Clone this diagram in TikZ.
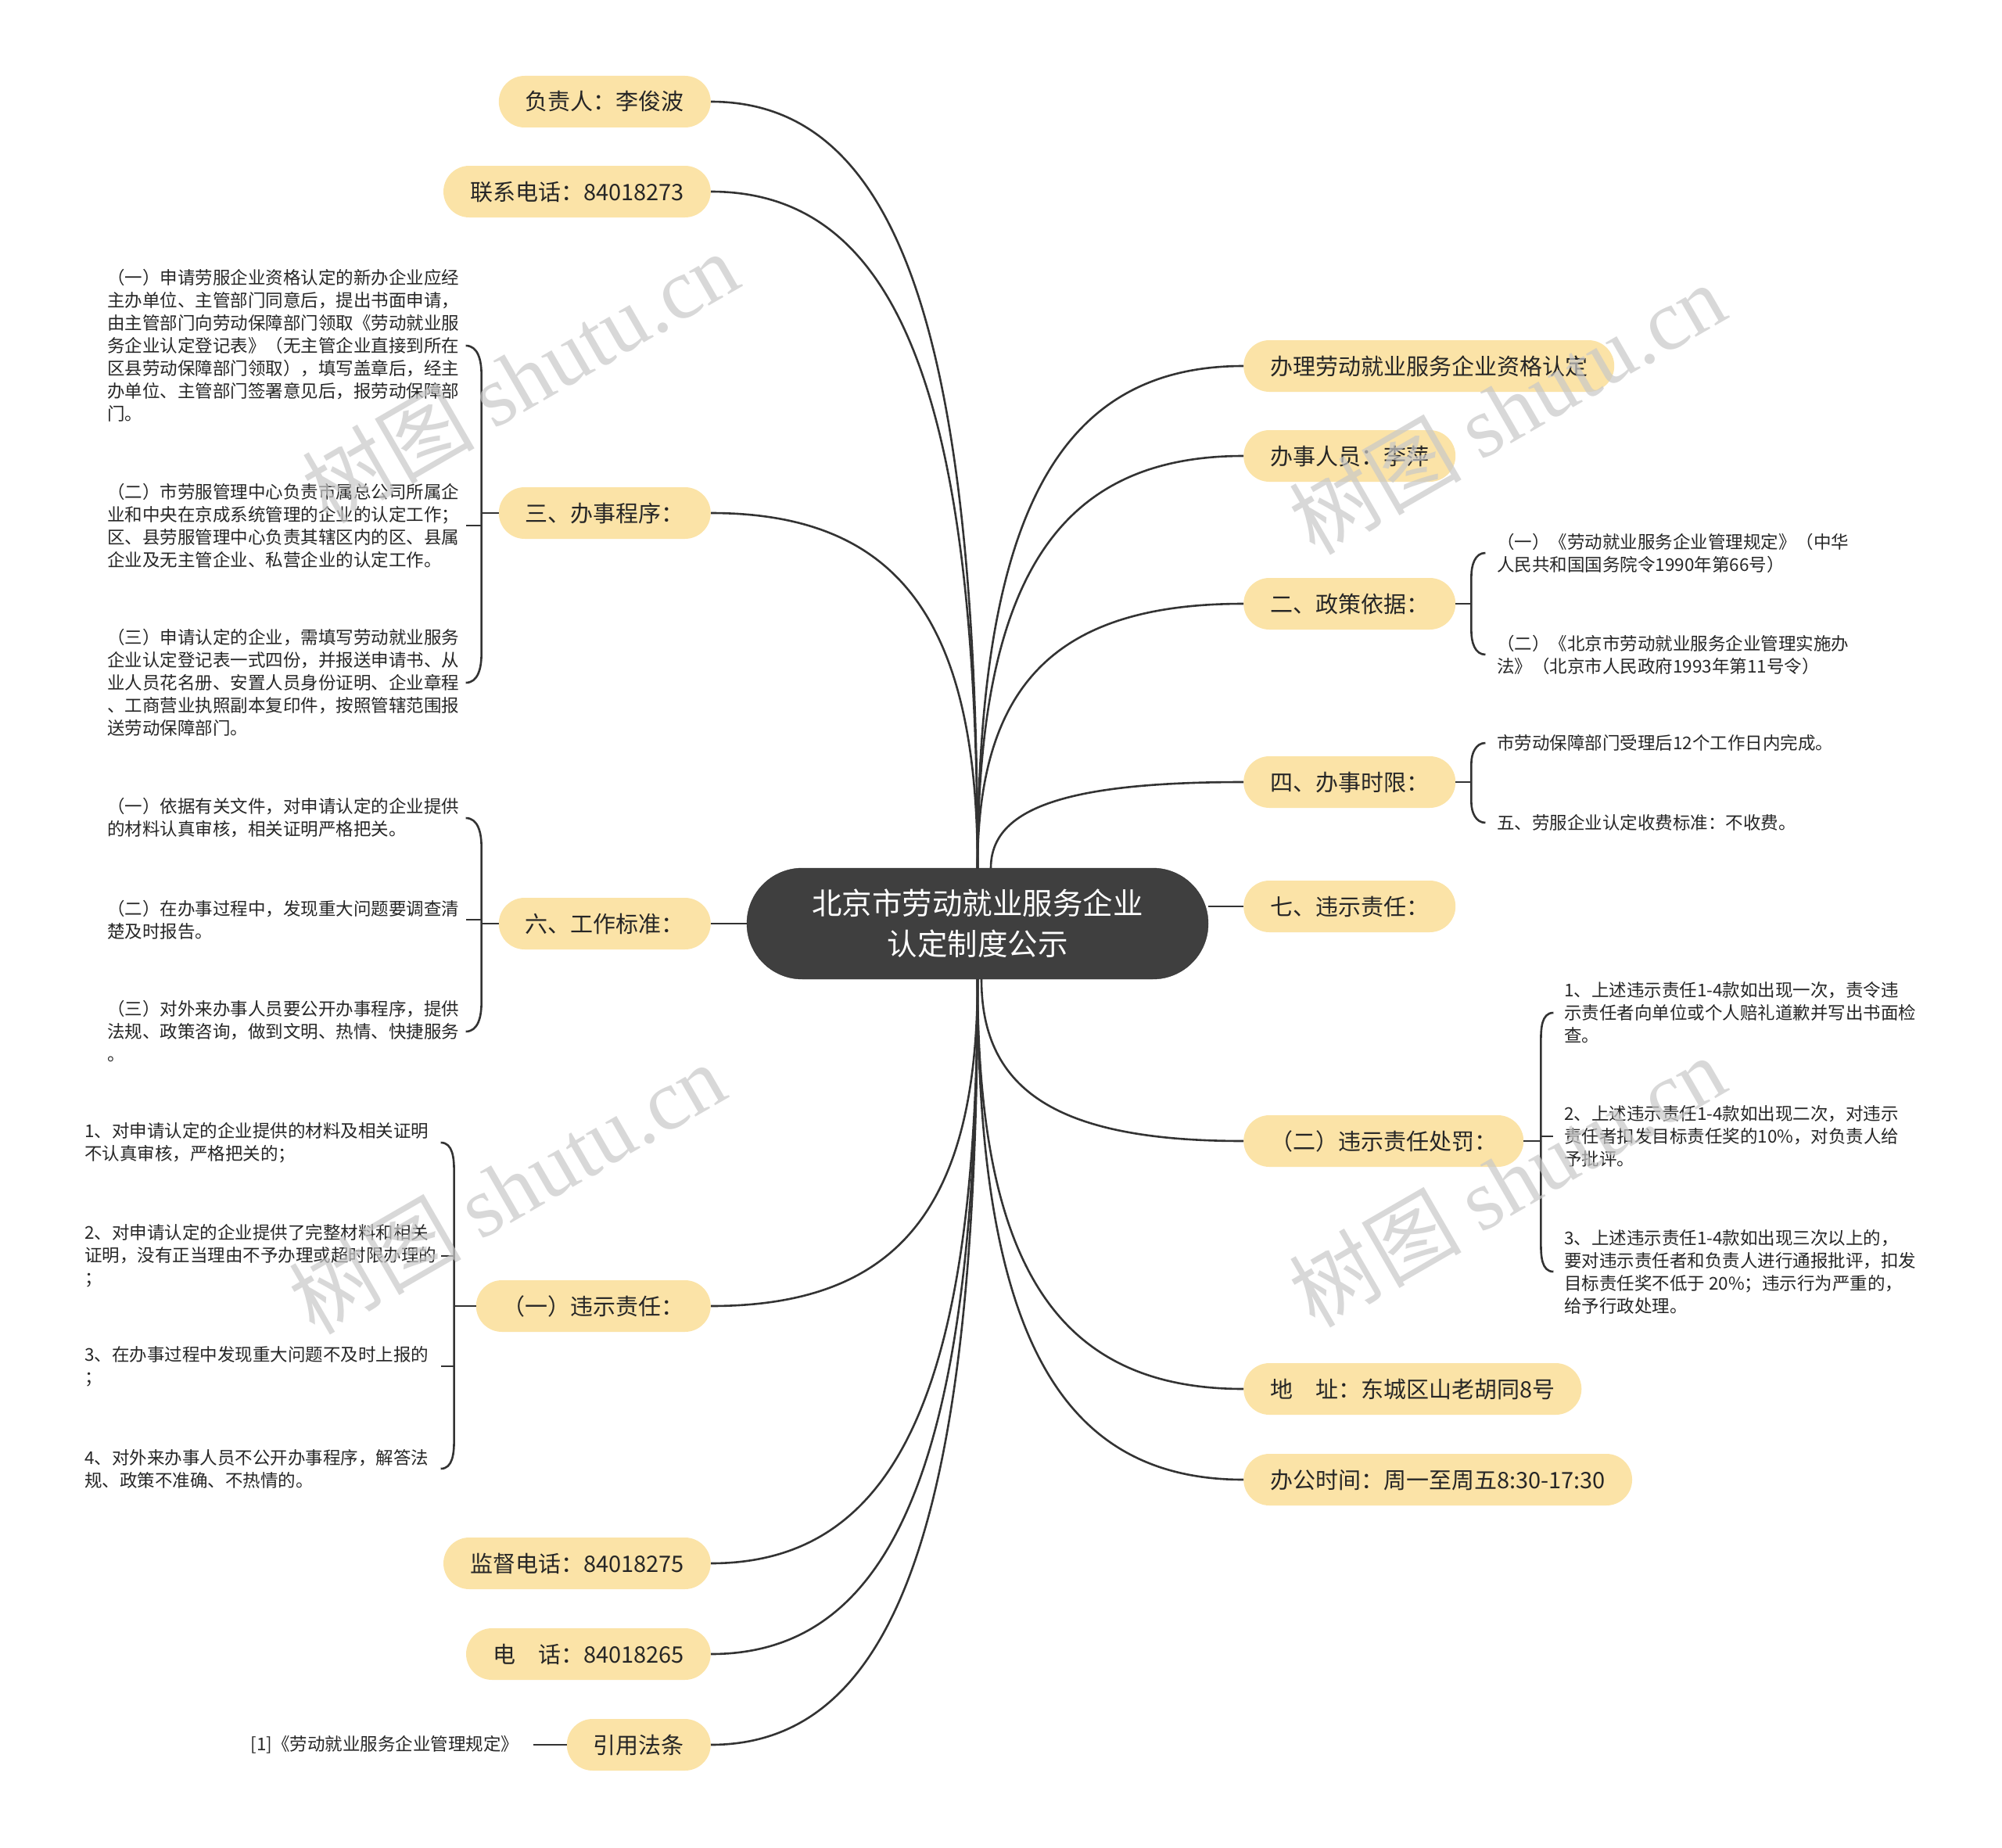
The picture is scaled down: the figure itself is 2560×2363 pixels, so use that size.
\documentclass[tikz,border=0pt]{standalone}
\usepackage{fontspec}
\setmainfont{Noto Sans CJK SC}
\newfontfamily\markfont{Liberation Serif}
\usetikzlibrary{calc,positioning}
\definecolor{topicfill}{HTML}{FBE3A7}
\definecolor{rootfill}{HTML}{3F3F3F}
\definecolor{linkgray}{HTML}{333333}
\definecolor{inkgray}{HTML}{262626}
\definecolor{markgray}{HTML}{C8C8C8}
\tikzset{
    root/.style={rounded corners=71pt,fill=rootfill,draw=rootfill!80!black,minimum width=590pt,minimum height=142pt,align=center,text=white,font=\fontsize{38.5pt}{52pt}\selectfont},
    topic/.style={rounded corners=33pt,fill=topicfill,minimum height=66pt,inner xsep=34pt,text height=26pt,text depth=4pt,text=inkgray,font=\fontsize{29pt}{35pt}\selectfont},
    leaf/.style={align=left,inner sep=0pt,text=inkgray,font=\fontsize{22.5pt}{29pt}\selectfont},
    link/.style={line width=2.6pt,draw=linkgray},
    branch/.style={link,to path={.. controls ($(\tikztostart)!.7!(\tikztostart|-\tikztotarget)$) and ($(\tikztotarget)!.7!(\tikztostart|-\tikztotarget)$) .. (\tikztotarget)}},
    watermark/.style={rotate=30,text=markgray,opacity=.7,font=\fontsize{110pt}{110pt}\selectfont}
}

\begin{document}
\begin{tikzpicture}[x=1pt,y=1pt]
    \clip (0,0) rectangle (2560,-2363);

    \node[root] (root) at (1250,-1181) {北京市劳动就业服务企业\\认定制度公示};
    \coordinate (rtop)  at (1250,-1110);
    \coordinate (rtop2) at (1267,-1110);
    \coordinate (rbot)  at (1250,-1252);
    \coordinate (rbot2) at (1255,-1252);

    \node[topic,anchor=east] (head)      at (909,-130)  {负责人：李俊波};
    \node[topic,anchor=east] (phone)     at (909,-245)  {联系电话：84018273};
    \node[topic,anchor=east] (steps)     at (909,-656)  {三、办事程序：};
    \node[topic,anchor=east] (standard)  at (909,-1181) {六、工作标准：};
    \node[topic,anchor=east] (duty)      at (909,-1670) {（一）违示责任：};
    \node[topic,anchor=east] (supervise) at (909,-1999) {监督电话：84018275};
    \node[topic,anchor=east] (tel)       at (909,-2115) {电　话：84018265};
    \node[topic,anchor=east] (law)       at (909,-2231) {引用法条};

    \node[topic,anchor=west] (qualify)   at (1590,-468)  {办理劳动就业服务企业资格认定};
    \node[topic,anchor=west] (staff)     at (1590,-583)  {办事人员：李萍};
    \node[topic,anchor=west] (policy)    at (1590,-772)  {二、政策依据：};
    \node[topic,anchor=west] (limit)     at (1590,-1000) {四、办事时限：};
    \node[topic,anchor=west] (duty7)     at (1590,-1159) {七、违示责任：};
    \node[topic,anchor=west] (penalty)   at (1590,-1459) {（二）违示责任处罚：};
    \node[topic,anchor=west] (addr)      at (1590,-1776) {地　址：东城区山老胡同8号};
    \node[topic,anchor=west] (hours)     at (1590,-1892) {办公时间：周一至周五8:30-17:30};

    \draw[branch] (rtop) to (head.east);
    \draw[branch] (rtop) to (phone.east);
    \draw[branch] (rtop) to (steps.east);
    \draw[link] (root.west) -- (standard.east);
    \draw[branch] (rbot) to (duty.east);
    \draw[branch] (rbot) to (supervise.east);
    \draw[branch] (rbot) to (tel.east);
    \draw[branch] (rbot) to (law.east);

    \draw[branch] (rtop) to (qualify.west);
    \draw[branch] (rtop) to (staff.west);
    \draw[branch] (rtop) to (policy.west);
    \draw[branch] (rtop2) to (limit.west);
    \draw[link] (root.east |- duty7.west) -- (duty7.west);
    \draw[branch] (rbot2) to (penalty.west);
    \draw[branch] (rbot) to (addr.west);
    \draw[branch] (rbot) to (hours.west);

    \node[leaf,anchor=west] (steps-1) at (137,-442) {（一）申请劳服企业资格认定的新办企业应经\\主办单位、主管部门同意后，提出书面申请，\\由主管部门向劳动保障部门领取《劳动就业服\\务企业认定登记表》（无主管企业直接到所在\\区县劳动保障部门领取），填写盖章后，经主\\办单位、主管部门签署意见后，报劳动保障部\\门。};
    \node[leaf,anchor=west] (steps-2) at (137,-672) {（二）市劳服管理中心负责市属总公司所属企\\业和中央在京成系统管理的企业的认定工作；\\区、县劳服管理中心负责其辖区内的区、县属\\企业及无主管企业、私营企业的认定工作。};
    \node[leaf,anchor=west] (steps-3) at (137,-873) {（三）申请认定的企业，需填写劳动就业服务\\企业认定登记表一式四份，并报送申请书、从\\业人员花名册、安置人员身份证明、企业章程\\、工商营业执照副本复印件，按照管辖范围报\\送劳动保障部门。};
    \coordinate[left=22pt of steps] (steps-s);
    \coordinate[left=20pt of steps-s] (steps-h);
    \draw[link] (steps.west) -- (steps-s);
    \draw[link] (steps-s) -- ([yshift=-36pt]steps-s |- steps-1.west) to[out=90,in=0] (steps-1.west -| steps-h);
    \draw[link] (steps-s |- steps-2.west) -- (steps-2.west -| steps-h);
    \draw[link] (steps-s) -- ([yshift=36pt]steps-s |- steps-3.west) to[out=-90,in=0] (steps-3.west -| steps-h);

    \node[leaf,anchor=west] (std-1) at (137,-1046) {（一）依据有关文件，对申请认定的企业提供\\的材料认真审核，相关证明严格把关。};
    \node[leaf,anchor=west] (std-2) at (137,-1176) {（二）在办事过程中，发现重大问题要调查清\\楚及时报告。};
    \node[leaf,anchor=west] (std-3) at (137,-1319) {（三）对外来办事人员要公开办事程序，提供\\法规、政策咨询，做到文明、热情、快捷服务\\。};
    \coordinate[left=22pt of standard] (std-s);
    \coordinate[left=20pt of std-s] (std-h);
    \draw[link] (std-s) -- ([yshift=-36pt]std-s |- std-1.west) to[out=90,in=0] (std-1.west -| std-h);
    \draw[link] (std-s |- std-2.west) -- (std-2.west -| std-h);
    \draw[link] (std-s) -- ([yshift=36pt]std-s |- std-3.west) to[out=-90,in=0] (std-3.west -| std-h);
    \draw[link] (standard.west) -- (std-s);

    \node[leaf,anchor=west] (duty-1) at (108,-1461) {1、对申请认定的企业提供的材料及相关证明\\不认真审核，严格把关的；};
    \node[leaf,anchor=west] (duty-2) at (108,-1606) {2、对申请认定的企业提供了完整材料和相关\\证明，没有正当理由不予办理或超时限办理的\\；};
    \node[leaf,anchor=west] (duty-3) at (108,-1747) {3、在办事过程中发现重大问题不及时上报的\\；};
    \node[leaf,anchor=west] (duty-4) at (108,-1878) {4、对外来办事人员不公开办事程序，解答法\\规、政策不准确、不热情的。};
    \coordinate[left=28pt of duty] (duty-s);
    \coordinate[left=17pt of duty-s] (duty-h);
    \draw[link] (duty.west) -- (duty-s);
    \draw[link] (duty-s) -- ([yshift=-36pt]duty-s |- duty-1.west) to[out=90,in=0] (duty-1.west -| duty-h);
    \draw[link] (duty-s |- duty-2.west) -- (duty-2.west -| duty-h);
    \draw[link] (duty-s |- duty-3.west) -- (duty-3.west -| duty-h);
    \draw[link] (duty-s) -- ([yshift=36pt]duty-s |- duty-4.west) to[out=-90,in=0] (duty-4.west -| duty-h);

    \node[leaf,left=61pt of law] (lawref) {[1]《劳动就业服务企业管理规定》};
    \draw[link] ([xshift=18pt]lawref.east) -- (law.west);

    \node[leaf,anchor=west] (policy-1) at (1914,-707) {（一）《劳动就业服务企业管理规定》（中华\\人民共和国国务院令1990年第66号）};
    \node[leaf,anchor=west] (policy-2) at (1914,-837) {（二）《北京市劳动就业服务企业管理实施办\\法》（北京市人民政府1993年第11号令）};
    \coordinate[right=20pt of policy] (policy-s);
    \coordinate[right=18pt of policy-s] (policy-h);
    \draw[link] (policy.east) -- (policy-s);
    \draw[link] (policy-s) -- ([yshift=-30pt]policy-s |- policy-1.west) to[out=90,in=180] (policy-1.west -| policy-h);
    \draw[link] (policy-s) -- ([yshift=30pt]policy-s |- policy-2.west) to[out=-90,in=180] (policy-2.west -| policy-h);

    \node[leaf,anchor=west] (limit-1) at (1914,-950)  {市劳动保障部门受理后12个工作日内完成。};
    \node[leaf,anchor=west] (limit-2) at (1914,-1052) {五、劳服企业认定收费标准：不收费。};
    \coordinate[right=20pt of limit] (limit-s);
    \coordinate[right=18pt of limit-s] (limit-h);
    \draw[link] (limit.east) -- (limit-s);
    \draw[link] (limit-s) -- ([yshift=-26pt]limit-s |- limit-1.west) to[out=90,in=180] (limit-1.west -| limit-h);
    \draw[link] (limit-s) -- ([yshift=26pt]limit-s |- limit-2.west) to[out=-90,in=180] (limit-2.west -| limit-h);

    \node[leaf,anchor=west] (penalty-1) at (2000,-1295) {1、上述违示责任1-4款如出现一次，责令违\\示责任者向单位或个人赔礼道歉并写出书面检\\查。};
    \node[leaf,anchor=west] (penalty-2) at (2000,-1453) {2、上述违示责任1-4款如出现二次，对违示\\责任者扣发目标责任奖的10\%，对负责人给\\予批评。};
    \node[leaf,anchor=west] (penalty-3) at (2000,-1626) {3、上述违示责任1-4款如出现三次以上的，\\要对违示责任者和负责人进行通报批评，扣发\\目标责任奖不低于 20\%；违示行为严重的，\\给予行政处理。};
    \coordinate[right=22pt of penalty] (penalty-s);
    \coordinate[right=16pt of penalty-s] (penalty-h);
    \draw[link] (penalty.east) -- (penalty-s);
    \draw[link] (penalty-s) -- ([yshift=-36pt]penalty-s |- penalty-1.west) to[out=90,in=180] (penalty-1.west -| penalty-h);
    \draw[link] (penalty-s |- penalty-2.west) -- (penalty-2.west -| penalty-h);
    \draw[link] (penalty-s) -- ([yshift=36pt]penalty-s |- penalty-3.west) to[out=-90,in=180] (penalty-3.west -| penalty-h);

    \node[watermark] (mark-1) at (665,-482)   {树图 {\markfont shutu.cn}};
    \node[watermark] (mark-2) at (1927,-522)  {树图 {\markfont shutu.cn}};
    \node[watermark] (mark-3) at (648,-1519)  {树图 {\markfont shutu.cn}};
    \node[watermark] (mark-4) at (1927,-1510) {树图 {\markfont shutu.cn}};
\end{tikzpicture}
\end{document}
